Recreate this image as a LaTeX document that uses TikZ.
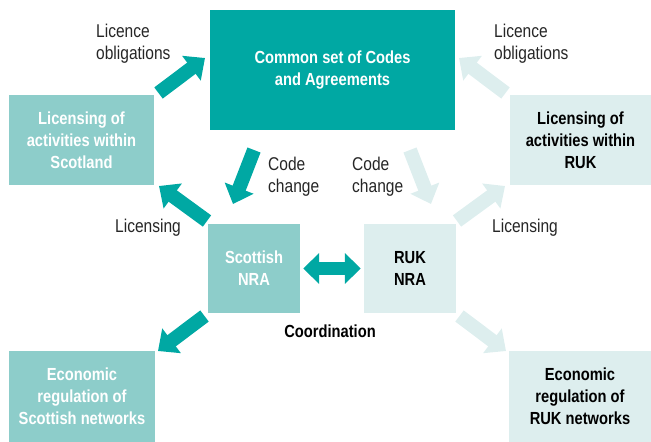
\documentclass[tikz,border=0pt]{standalone}
\usepackage{fontspec}
\setmainfont{Liberation Sans}[FakeStretch=0.84]
\usetikzlibrary{arrows.meta}
\definecolor{tealdark}{RGB}{0,168,163}
\definecolor{tealmid}{RGB}{141,205,202}
\definecolor{teallight}{RGB}{221,238,238}
\begin{document}
\begin{tikzpicture}[x=1pt,y=-1pt,
  box/.style={rectangle, inner sep=0pt, align=center, font=\fontsize{17.5}{22}\selectfont\bfseries},
  darkbox/.style={box, fill=tealdark, text=white},
  midbox/.style={box, fill=tealmid, text=white},
  lightbox/.style={box, fill=teallight, text=black},
  lbl/.style={inner sep=0pt, align=left, font=\fontsize{18.5}{22}\selectfont, text=black!85},
  blk/.style={line width=14pt, -{Triangle[width=30pt,length=17pt]}},
  dblk/.style={line width=13pt, {Triangle[width=30pt,length=16pt]}-{Triangle[width=30pt,length=16pt]}}
]
\useasboundingbox (0,0) rectangle (651,442);

% boxes
\node[darkbox, minimum width=245pt, minimum height=120pt] (common) at (332.5,70) {Common set of Codes\\and Agreements};
\node[midbox, minimum width=145pt, minimum height=90pt] (licS) at (81.5,140) {Licensing of\\activities within\\Scotland};
\node[lightbox, minimum width=141pt, minimum height=90pt] (licR) at (580.5,140) {Licensing of\\activities within\\RUK};
\node[midbox, minimum width=92pt, minimum height=89pt] (nraS) at (254,268.5) {Scottish\\NRA};
\node[lightbox, minimum width=92pt, minimum height=89pt] (nraR) at (410,268.5) {RUK\\NRA};
\node[midbox, minimum width=146pt, minimum height=91pt] (ecoS) at (82,396.5) {Economic\\regulation of\\Scottish networks};
\node[lightbox, minimum width=142pt, minimum height=91pt] (ecoR) at (580,396.5) {Economic\\regulation of\\RUK networks};

% arrow end points
\coordinate (a1s) at (158.5,93);   \coordinate (a1e) at (205,58);
\coordinate (a2s) at (505.5,93);   \coordinate (a2e) at (459,58);
\coordinate (a3s) at (254,150);    \coordinate (a3e) at (233,204);
\coordinate (a4s) at (410,150);    \coordinate (a4e) at (431,204);
\coordinate (a5s) at (207,221);    \coordinate (a5e) at (159,186);
\coordinate (a6s) at (457,221);    \coordinate (a6e) at (505,186);
\coordinate (a7s) at (204.5,316);  \coordinate (a7e) at (158,351);
\coordinate (a8s) at (459.5,316);  \coordinate (a8e) at (506,351);
\coordinate (c1) at ([xshift=3pt]nraS.east);
\coordinate (c2) at ([xshift=-3pt]nraR.west);

\draw[blk, tealdark] (a1s) -- (a1e);
\draw[blk, teallight] (a2s) -- (a2e);
\draw[blk, tealdark] (a3s) -- (a3e);
\draw[blk, teallight] (a4s) -- (a4e);
\draw[blk, tealdark] (a5s) -- (a5e);
\draw[blk, teallight] (a6s) -- (a6e);
\draw[blk, tealdark] (a7s) -- (a7e);
\draw[blk, teallight] (a8s) -- (a8e);
\draw[dblk, tealdark] (c1) -- (c2);

% labels
\node[lbl, anchor=west] (l1) at (96,44) {Licence\\obligations};
\node[lbl, anchor=west] (l2) at (494,44) {Licence\\obligations};
\node[lbl, anchor=west] (l3) at (268,177) {Code\\change};
\node[lbl, anchor=west] (l4) at (352,177) {Code\\change};
\node[lbl, anchor=west] (l5) at (115,228) {Licensing};
\node[lbl, anchor=west] (l6) at (492,228) {Licensing};
\node[inner sep=0pt, font=\fontsize{17.5}{22}\selectfont\bfseries] (coord) at (330,331) {Coordination};
\end{tikzpicture}
\end{document}
